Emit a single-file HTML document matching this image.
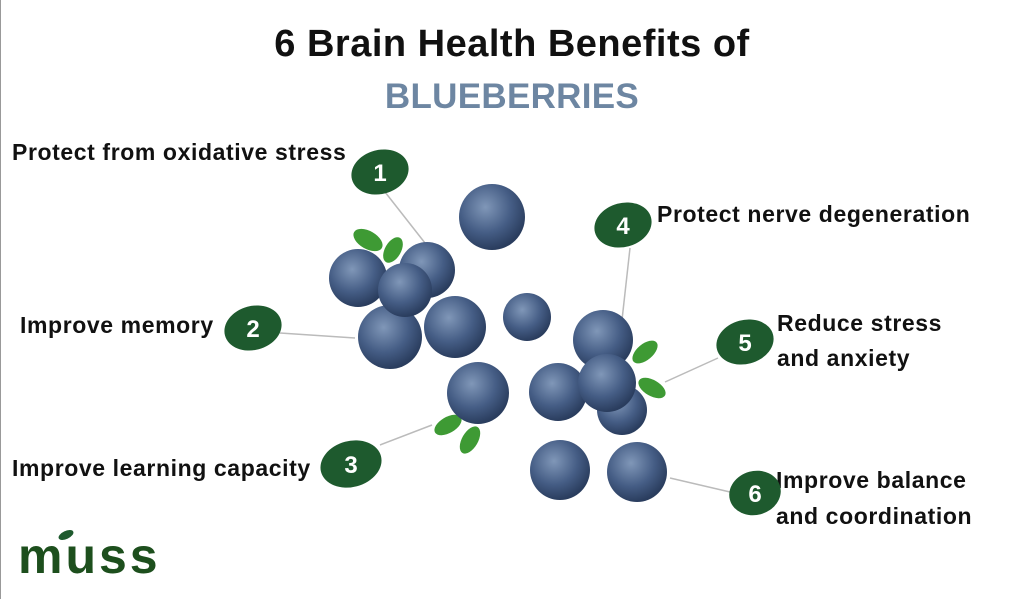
<!DOCTYPE html><html><head><style>
body{margin:0;width:1024px;height:599px;background:#fff;overflow:hidden;position:relative;font-family:"Liberation Sans",sans-serif}
.t{position:absolute;font-weight:bold;color:#111;white-space:nowrap;font-size:23px;letter-spacing:0.6px}
</style></head><body>
<div style="position:absolute;left:0;top:0;width:1px;height:599px;background:#999"></div>
<div class="t" style="left:0;width:1024px;text-align:center;top:23px;font-size:38px;letter-spacing:0.5px">6 Brain Health Benefits of</div>
<div class="t" style="left:0;width:1024px;text-align:center;top:77px;font-size:35px;color:#6d86a2;letter-spacing:0.3px">BLUEBERRIES</div>
<div class="t" style="left:12px;top:139px">Protect from oxidative stress</div>
<div class="t" style="left:20px;top:312px">Improve memory</div>
<div class="t" style="left:12px;top:455px">Improve learning capacity</div>
<div class="t" style="left:657px;top:201px">Protect nerve degeneration</div>
<div class="t" style="left:777px;top:306px;line-height:35px">Reduce stress<br>and anxiety</div>
<div class="t" style="left:776px;top:462px;line-height:36px">Improve balance<br>and coordination</div>
<div class="t" style="left:18px;top:527px;font-size:50px;color:#1d4f1d;letter-spacing:3px">muss</div>
<svg width="1024" height="599" style="position:absolute;left:0;top:0">
<defs><radialGradient id="b" cx="40%" cy="35%" r="65%"><stop offset="0" stop-color="#8097b8"/><stop offset=".6" stop-color="#455d85"/><stop offset="1" stop-color="#2a3d5e"/></radialGradient></defs>
<g stroke="#bbb" stroke-width="1.5">
<line x1="385" y1="192" x2="425" y2="243"/><line x1="280" y1="333" x2="355" y2="338"/>
<line x1="380" y1="445" x2="432" y2="425"/><line x1="630" y1="248" x2="622" y2="320"/>
<line x1="718" y1="358" x2="665" y2="382"/><line x1="730" y1="492" x2="670" y2="478"/>
</g>
<g fill="#3e9a34">
<ellipse cx="368" cy="240" rx="16" ry="9" transform="rotate(30 368 240)"/><ellipse cx="393" cy="250" rx="14" ry="8" transform="rotate(-60 393 250)"/>
<ellipse cx="645" cy="352" rx="15" ry="8" transform="rotate(-40 645 352)"/><ellipse cx="652" cy="388" rx="15" ry="8" transform="rotate(30 652 388)"/>
<ellipse cx="448" cy="425" rx="15" ry="8" transform="rotate(-30 448 425)"/><ellipse cx="470" cy="440" rx="15" ry="8" transform="rotate(-60 470 440)"/>
</g>
<g fill="url(#b)">
<circle cx="492" cy="217" r="33"/><circle cx="358" cy="278" r="29"/><circle cx="427" cy="270" r="28"/><circle cx="390" cy="337" r="32"/><circle cx="455" cy="327" r="31"/><circle cx="405" cy="290" r="27"/>
<circle cx="527" cy="317" r="24"/><circle cx="478" cy="393" r="31"/>
<circle cx="603" cy="340" r="30"/><circle cx="558" cy="392" r="29"/><circle cx="622" cy="410" r="25"/><circle cx="607" cy="383" r="29"/>
<circle cx="560" cy="470" r="30"/><circle cx="637" cy="472" r="30"/>
</g>
<g fill="#1e5a2e">
<ellipse cx="380" cy="172" rx="29" ry="22" transform="rotate(-15 380 172)"/>
<ellipse cx="253" cy="328" rx="29" ry="22" transform="rotate(-15 253 328)"/>
<ellipse cx="351" cy="464" rx="31" ry="23" transform="rotate(-15 351 464)"/>
<ellipse cx="623" cy="225" rx="29" ry="22" transform="rotate(-15 623 225)"/>
<ellipse cx="745" cy="342" rx="29" ry="22" transform="rotate(-15 745 342)"/>
<ellipse cx="755" cy="493" rx="26" ry="22" transform="rotate(-15 755 493)"/>
<ellipse cx="66" cy="535" rx="8" ry="4" transform="rotate(-25 66 535)"/>
</g>
<g fill="#fff" font-family="Liberation Sans" font-weight="bold" font-size="24" text-anchor="middle">
<text x="380" y="181">1</text><text x="253" y="337">2</text><text x="351" y="473">3</text><text x="623" y="234">4</text><text x="745" y="351">5</text><text x="755" y="502">6</text>
</g>
</svg>
</body></html>
